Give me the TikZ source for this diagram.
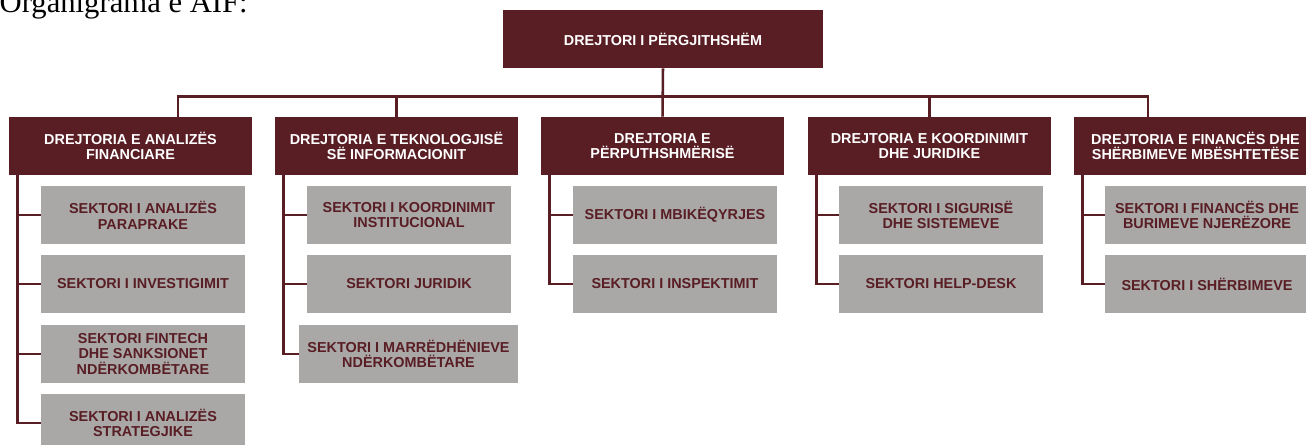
\documentclass[tikz,border=0pt]{standalone}
\usepackage{fontspec}
\newfontfamily\orgfont{Liberation Sans}
\newfontfamily\titlefont{Liberation Serif}
\definecolor{orgred}{RGB}{89,29,36}
\definecolor{secgray}{RGB}{169,168,167}

\begin{document}
\begin{tikzpicture}[x=0.75pt,y=-0.75pt,
  dir/.style={fill=orgred,text=white,minimum width=182.25pt,minimum height=43.5pt,inner sep=0pt,align=center,
    font=\orgfont\bfseries\fontsize{10.8}{11.8}\selectfont},
  sec/.style={fill=secgray,text=orgred,minimum width=153pt,minimum height=43.5pt,inner sep=0pt,align=center,
    font=\orgfont\bfseries\fontsize{10.8}{11.8}\selectfont},
  link/.style={draw=orgred,line width=1.9pt}]
  \useasboundingbox (0,0) rectangle (1306,445);
  \clip (0,0) rectangle (1306,445);
  \node[anchor=base east,inner sep=0pt,font=\titlefont\fontsize{23}{27}\selectfont] (title) at (248,12.7) {Organigrama e AIF:};
  \path (663,39) node[dir,minimum width=240pt] (gen) {DREJTORI I PËRGJITHSHËM};
  \path (130.5,146) node[dir] (d1) {DREJTORIA E ANALIZËS\\FINANCIARE}
  (396.5,146) node[dir] (d2) {DREJTORIA E TEKNOLOGJISË\\SË INFORMACIONIT}
  (662.5,146) node[dir] (d3) {DREJTORIA E\\PËRPUTHSHMËRISË}
  (929.5,146) node[dir] (d4) {DREJTORIA E KOORDINIMIT\\DHE JURIDIKE}
  (1195.5,146) node[dir] (d5) {DREJTORIA E FINANCËS DHE\\SHËRBIMEVE MBËSHTETËSE};
  \path (143,215) node[sec] (s11) {SEKTORI I ANALIZËS\\PARAPRAKE}
  (143,284) node[sec] (s12) {SEKTORI I INVESTIGIMIT}
  (143,354) node[sec] (s13) {SEKTORI FINTECH\\DHE SANKSIONET\\NDËRKOMBËTARE}
  (143,423) node[sec] (s14) {SEKTORI I ANALIZËS\\STRATEGJIKE};
  \path (409,215) node[sec] (s21) {SEKTORI I KOORDINIMIT\\INSTITUCIONAL}
  (409,284) node[sec] (s22) {SEKTORI JURIDIK}
  (408.5,354) node[sec,minimum width=164.25pt] (s23) {SEKTORI I MARRËDHËNIEVE\\NDËRKOMBËTARE};
  \path (675,215) node[sec] (s31) {SEKTORI I MBIKËQYRJES}
  (675,284) node[sec] (s32) {SEKTORI I INSPEKTIMIT};
  \path (941,215) node[sec] (s41) {SEKTORI I SIGURISË\\DHE SISTEMEVE}
  (941,284) node[sec] (s42) {SEKTORI HELP-DESK};
  \path (1207,215) node[sec] (s51) {SEKTORI I FINANCËS DHE\\BURIMEVE NJERËZORE}
  (1207,284) node[sec] (s52) {SEKTORI I SHËRBIMEVE};
  \coordinate (busL) at (178,96.5);
  \coordinate (busR) at (1148,96.5);
  \draw[link] (gen.south) -- (d3.north);
  \draw[link] (d1.north -| busL) -- (busL) -- (busR) -- (d5.north -| busR);
  \draw[link] (d2.north) -- (d2.north |- busL);
  \draw[link] (d4.north) -- (d4.north |- busL);
  \coordinate (c1) at ([xshift=6.75pt]d1.south west);
  \coordinate (c2) at ([xshift=6.75pt]d2.south west);
  \coordinate (c3) at ([xshift=6.75pt]d3.south west);
  \coordinate (c4) at ([xshift=6.75pt]d4.south west);
  \coordinate (c5) at ([xshift=6.75pt]d5.south west);
  \draw[link] (c1) |- (s11.west) (c1) |- (s12.west) (c1) |- (s13.west) (c1) |- (s14.west);
  \draw[link] (c2) |- (s21.west) (c2) |- (s22.west) (c2) |- (s23.west);
  \draw[link] (c3) |- (s31.west) (c3) |- (s32.west);
  \draw[link] (c4) |- (s41.west) (c4) |- (s42.west);
  \draw[link] (c5) |- (s51.west) (c5) |- (s52.west);
\end{tikzpicture}
\end{document}
